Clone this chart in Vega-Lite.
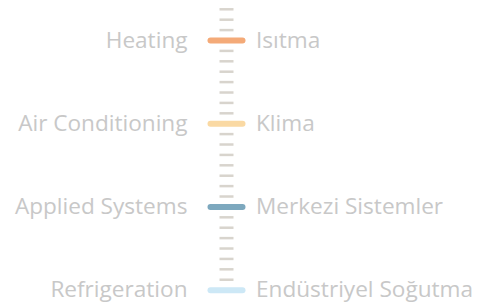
{
  "$schema": "https://vega.github.io/schema/vega-lite/v6.json",
  "width": 485,
  "height": 305,
  "padding": 0,
  "autosize": {"type": "none"},
  "background": "white",
  "config": {"view": {"stroke": null}},
  "datasets": {
    "ticks": [
      {"u": -3}, {"u": -2}, {"u": -1},
      {"u": 1}, {"u": 2}, {"u": 3}, {"u": 4}, {"u": 5}, {"u": 6}, {"u": 7},
      {"u": 9}, {"u": 10}, {"u": 11}, {"u": 12}, {"u": 13}, {"u": 14}, {"u": 15},
      {"u": 17}, {"u": 18}, {"u": 19}, {"u": 20}, {"u": 21}, {"u": 22}, {"u": 23}
    ],
    "items": [
      {"u": 0, "en": "Heating", "tr": "Isıtma"},
      {"u": 8, "en": "Air Conditioning", "tr": "Klima"},
      {"u": 16, "en": "Applied Systems", "tr": "Merkezi Sistemler"},
      {"u": 24, "en": "Refrigeration", "tr": "Endüstriyel Soğutma"}
    ]
  },
  "layer": [
    {
      "data": {"name": "ticks"},
      "mark": {"type": "rule", "strokeWidth": 2.5, "color": "#D8D4CD"},
      "encoding": {
        "y": {"field": "u", "type": "quantitative", "scale": {"domain": [-3.894, 25.43], "reverse": true, "nice": false, "zero": false}, "axis": null},
        "x": {"datum": -7, "type": "quantitative", "scale": {"domain": [-226.5, 258.5], "nice": false, "zero": false}, "axis": null},
        "x2": {"datum": 7}
      }
    },
    {
      "data": {"name": "items"},
      "mark": {"type": "rule", "strokeWidth": 6, "strokeCap": "round"},
      "encoding": {
        "y": {"field": "u", "type": "quantitative"},
        "x": {"datum": -16, "type": "quantitative"},
        "x2": {"datum": 16},
        "color": {"field": "en", "type": "nominal", "legend": null,
          "scale": {"domain": ["Heating", "Air Conditioning", "Applied Systems", "Refrigeration"],
                    "range": ["#F4AA78", "#FAD9A3", "#7DA8BE", "#CDE8F6"]}}
      }
    },
    {
      "data": {"name": "items"},
      "mark": {"type": "text", "align": "right", "baseline": "middle", "font": "Open Sans", "fontSize": 22.6, "color": "#C8C8C8"},
      "encoding": {
        "y": {"field": "u", "type": "quantitative"},
        "x": {"datum": -39, "type": "quantitative"},
        "text": {"field": "en"}
      }
    },
    {
      "data": {"name": "items"},
      "mark": {"type": "text", "align": "left", "baseline": "middle", "font": "Open Sans", "fontSize": 22.6, "color": "#C8C8C8"},
      "encoding": {
        "y": {"field": "u", "type": "quantitative"},
        "x": {"datum": 29.5, "type": "quantitative"},
        "text": {"field": "tr"}
      }
    }
  ]
}
